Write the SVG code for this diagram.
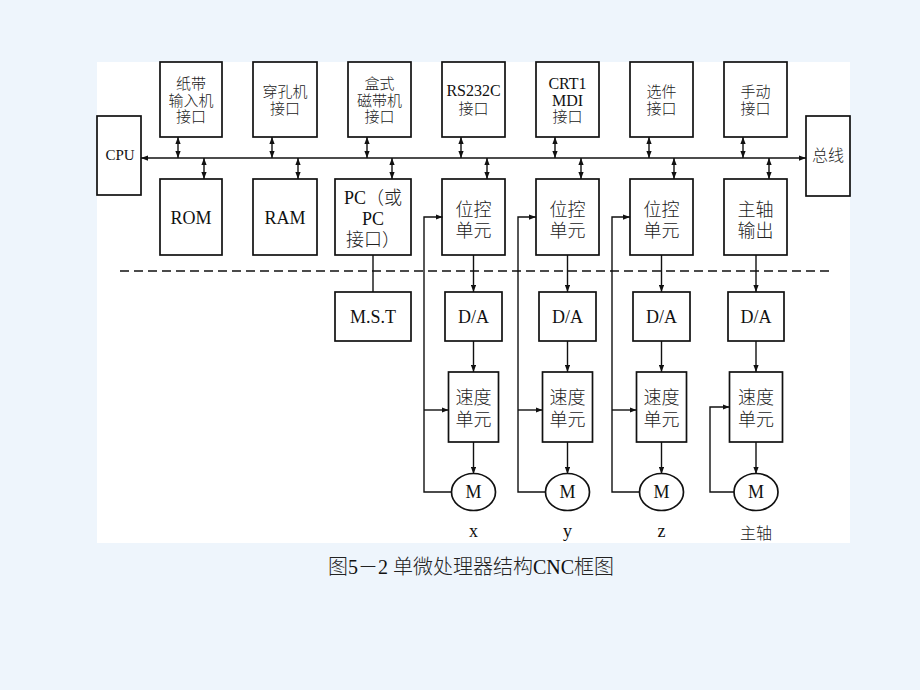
<svg xmlns="http://www.w3.org/2000/svg" width="920" height="690" viewBox="0 0 920 690">
<defs>
<style>
.bx{fill:none;stroke:#111;stroke-width:1.7}
.ln{fill:none;stroke:#111;stroke-width:1.4}
.t{font-family:"Liberation Serif","Noto Sans CJK SC",serif;fill:#111;text-anchor:middle}
.c{font-family:"Liberation Serif","Noto Sans CJK SC",serif;fill:#222;text-anchor:middle;font-weight:300}
.sf{font-family:"Liberation Serif",serif;font-weight:400;fill:#111}
.s15{font-size:15px}.s16{font-size:16px}.s18{font-size:18px}
</style>
<marker id="ah" viewBox="0 0 8 6" refX="8" refY="3" markerWidth="7" markerHeight="5.5" markerUnits="userSpaceOnUse" orient="auto-start-reverse">
<path d="M0,0 L8,3 L0,6 Z" fill="#111"/>
</marker>
</defs>
<rect width="920" height="690" fill="#eef5fc"/>
<rect x="97" y="62" width="753" height="481" fill="#fff"/>

<g id="connectors">
<line class="ln" x1="141" y1="158" x2="806" y2="158" marker-start="url(#ah)" marker-end="url(#ah)"/>
<g marker-start="url(#ah)" marker-end="url(#ah)">
<line class="ln" x1="178" y1="137" x2="178" y2="158"/>
<line class="ln" x1="272" y1="137" x2="272" y2="158"/>
<line class="ln" x1="367" y1="137" x2="367" y2="158"/>
<line class="ln" x1="461" y1="137" x2="461" y2="158"/>
<line class="ln" x1="555" y1="137" x2="555" y2="158"/>
<line class="ln" x1="649" y1="137" x2="649" y2="158"/>
<line class="ln" x1="743" y1="137" x2="743" y2="158"/>
<line class="ln" x1="204" y1="158" x2="204" y2="179"/>
<line class="ln" x1="298" y1="158" x2="298" y2="179"/>
<line class="ln" x1="392" y1="158" x2="392" y2="179"/>
<line class="ln" x1="487" y1="158" x2="487" y2="179"/>
<line class="ln" x1="581" y1="158" x2="581" y2="179"/>
<line class="ln" x1="674" y1="158" x2="674" y2="179"/>
<line class="ln" x1="769" y1="158" x2="769" y2="179"/>
</g>
<line class="ln" x1="120" y1="271" x2="830" y2="271" stroke-dasharray="9 5"/>
<line class="ln" x1="373" y1="255" x2="373" y2="292"/>
<g marker-end="url(#ah)">
<line class="ln" x1="473.5" y1="255" x2="473.5" y2="292"/>
<line class="ln" x1="567.5" y1="255" x2="567.5" y2="292"/>
<line class="ln" x1="661.5" y1="255" x2="661.5" y2="292"/>
<line class="ln" x1="756" y1="255" x2="756" y2="292"/>
<line class="ln" x1="473.5" y1="341" x2="473.5" y2="372"/>
<line class="ln" x1="567.5" y1="341" x2="567.5" y2="372"/>
<line class="ln" x1="661.5" y1="341" x2="661.5" y2="372"/>
<line class="ln" x1="756" y1="341" x2="756" y2="372"/>
<line class="ln" x1="473.5" y1="442" x2="473.5" y2="474"/>
<line class="ln" x1="567.5" y1="442" x2="567.5" y2="474"/>
<line class="ln" x1="661.5" y1="442" x2="661.5" y2="474"/>
<line class="ln" x1="756" y1="442" x2="756" y2="474"/>
<path class="ln" d="M451.5,492 H424 V217 H442.5"/>
<path class="ln" d="M545.5,492 H518 V217 H536"/>
<path class="ln" d="M639.5,492 H612 V217 H630"/>
<path class="ln" d="M424,410 H448.5"/>
<path class="ln" d="M518,410 H542.5"/>
<path class="ln" d="M612,410 H636.5"/>
<path class="ln" d="M734,492 H710 V407 H729.5"/>
</g>
</g>

<g id="cpu"><rect class="bx" x="97" y="116" width="44" height="79"/><text class="t s15" x="120" y="160">CPU</text></g>
<g id="bus"><rect class="bx" x="806" y="116" width="44" height="80"/><text class="c s16" x="828" y="161">总线</text></g>

<g id="tape-if"><rect class="bx" x="160" y="62" width="62" height="75"/>
<text class="c s15" x="191" y="89">纸带<tspan x="191" dy="16.5">输入机</tspan><tspan x="191" dy="16.5">接口</tspan></text></g>
<g id="punch-if"><rect class="bx" x="253" y="62" width="64" height="75"/>
<text class="c s15" x="285" y="97">穿孔机<tspan x="285" dy="17">接口</tspan></text></g>
<g id="cassette-if"><rect class="bx" x="348" y="62" width="63" height="75"/>
<text class="c s15" x="379.5" y="89">盒式<tspan x="379.5" dy="16.5">磁带机</tspan><tspan x="379.5" dy="16.5">接口</tspan></text></g>
<g id="rs232-if"><rect class="bx" x="442" y="62" width="63" height="75"/>
<text class="c s15" x="473.5" y="96"><tspan class="sf" font-size="16">RS232C</tspan><tspan x="473.5" dy="18">接口</tspan></text></g>
<g id="crt-if"><rect class="bx" x="536" y="62" width="63" height="75"/>
<text class="c s15" x="567.5" y="89"><tspan class="sf" font-size="16">CRT1</tspan><tspan class="sf" font-size="16" x="567.5" dy="16.5">MDI</tspan><tspan x="567.5" dy="16.5">接口</tspan></text></g>
<g id="option-if"><rect class="bx" x="630" y="62" width="63" height="75"/>
<text class="c s15" x="661.5" y="97">选件<tspan x="661.5" dy="17">接口</tspan></text></g>
<g id="manual-if"><rect class="bx" x="724" y="62" width="63" height="75"/>
<text class="c s15" x="755.5" y="97">手动<tspan x="755.5" dy="17">接口</tspan></text></g>

<g id="rom"><rect class="bx" x="160" y="179" width="62" height="76"/><text class="t s18" x="191" y="224">ROM</text></g>
<g id="ram"><rect class="bx" x="253" y="179" width="64" height="76"/><text class="t s18" x="285" y="224">RAM</text></g>
<g id="pc"><rect class="bx" x="335" y="179" width="76" height="76"/>
<text class="c s18" x="373" y="204"><tspan class="sf">PC</tspan>（或<tspan class="sf" x="373" dy="20.5">PC</tspan><tspan x="373" dy="21.5">接口）</tspan></text></g>
<g id="pos1"><rect class="bx" x="442" y="179" width="63" height="76"/><text class="c s18" x="473.5" y="216">位控<tspan x="473.5" dy="21">单元</tspan></text></g>
<g id="pos2"><rect class="bx" x="536" y="179" width="63" height="76"/><text class="c s18" x="567.5" y="216">位控<tspan x="567.5" dy="21">单元</tspan></text></g>
<g id="pos3"><rect class="bx" x="630" y="179" width="63" height="76"/><text class="c s18" x="661.5" y="216">位控<tspan x="661.5" dy="21">单元</tspan></text></g>
<g id="spindle-out"><rect class="bx" x="724" y="179" width="63" height="76"/><text class="c s18" x="755.5" y="216">主轴<tspan x="755.5" dy="21">输出</tspan></text></g>

<g id="mst"><rect class="bx" x="335" y="292" width="76" height="49"/><text class="t s18" x="373" y="323">M.S.T</text></g>
<g id="da1"><rect class="bx" x="445" y="292" width="57" height="49"/><text class="t s18" x="473.5" y="323">D/A</text></g>
<g id="da2"><rect class="bx" x="539" y="292" width="57" height="49"/><text class="t s18" x="567.5" y="323">D/A</text></g>
<g id="da3"><rect class="bx" x="633" y="292" width="57" height="49"/><text class="t s18" x="661.5" y="323">D/A</text></g>
<g id="da4"><rect class="bx" x="728" y="292" width="56" height="49"/><text class="t s18" x="756" y="323">D/A</text></g>

<g id="spd1"><rect class="bx" x="448.5" y="372" width="50" height="70"/><text class="c s18" x="473.5" y="404">速度<tspan x="473.5" dy="22">单元</tspan></text></g>
<g id="spd2"><rect class="bx" x="542.5" y="372" width="50" height="70"/><text class="c s18" x="567.5" y="404">速度<tspan x="567.5" dy="22">单元</tspan></text></g>
<g id="spd3"><rect class="bx" x="636.5" y="372" width="50" height="70"/><text class="c s18" x="661.5" y="404">速度<tspan x="661.5" dy="22">单元</tspan></text></g>
<g id="spd4"><rect class="bx" x="729.5" y="372" width="53" height="70"/><text class="c s18" x="756" y="404">速度<tspan x="756" dy="22">单元</tspan></text></g>

<g id="m1"><ellipse class="bx" cx="473.5" cy="492" rx="22" ry="18.5"/><text class="t s18" x="473.5" y="498">M</text><text class="t s18" x="473.5" y="537">x</text></g>
<g id="m2"><ellipse class="bx" cx="567.5" cy="492" rx="22" ry="18.5"/><text class="t s18" x="567.5" y="498">M</text><text class="t s18" x="567.5" y="537">y</text></g>
<g id="m3"><ellipse class="bx" cx="661.5" cy="492" rx="22" ry="18.5"/><text class="t s18" x="661.5" y="498">M</text><text class="t s18" x="661.5" y="537">z</text></g>
<g id="m4"><ellipse class="bx" cx="756" cy="492" rx="22" ry="18.5"/><text class="t s18" x="756" y="498">M</text><text class="c s16" x="756" y="539">主轴</text></g>

<text class="c" x="471" y="574" font-size="20">图<tspan class="sf">5</tspan>－<tspan class="sf">2</tspan>  单微处理器结构<tspan class="sf">CNC</tspan>框图</text>
</svg>
